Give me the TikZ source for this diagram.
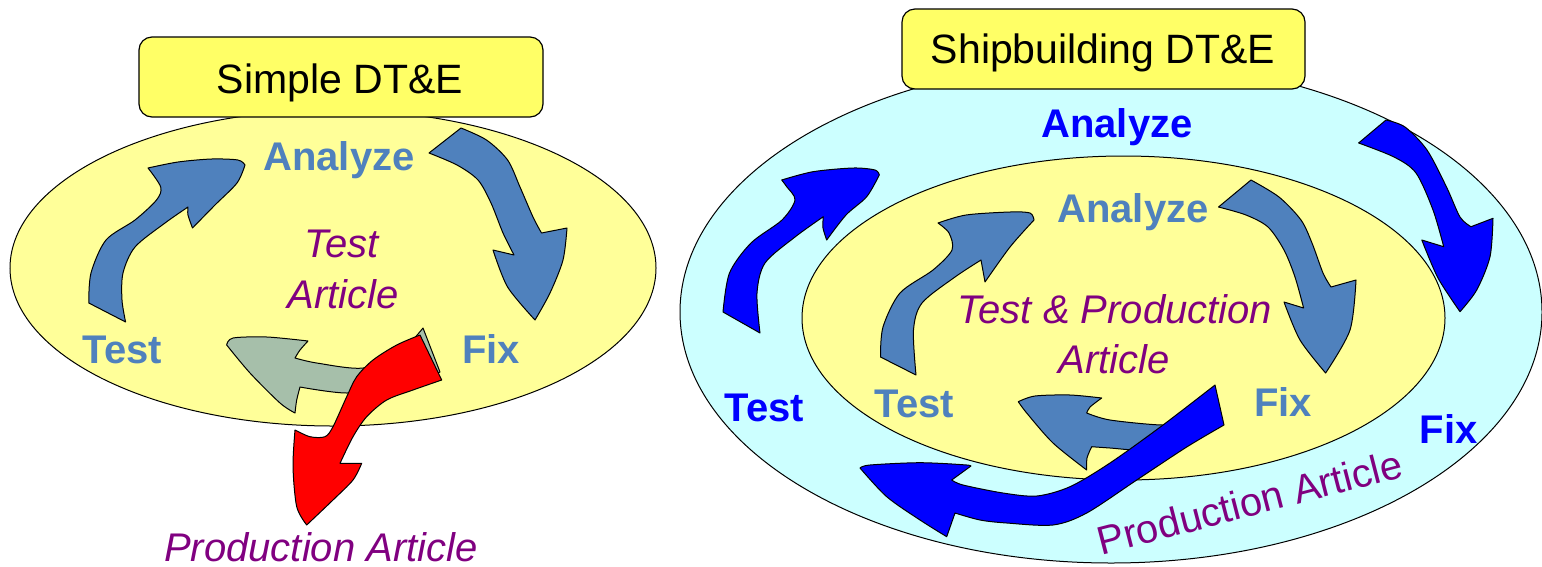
\documentclass[tikz,border=0pt]{standalone}
\usepackage{fontspec}
\setmainfont{Liberation Sans}
\usetikzlibrary{shapes.geometric}
\definecolor{steel}{RGB}{79,129,189}
\definecolor{sage}{RGB}{166,191,170}
\definecolor{pureblue}{RGB}{0,0,255}
\definecolor{artpurple}{RGB}{128,0,128}
\definecolor{boxyellow}{RGB}{255,255,102}
\definecolor{paleyellow}{RGB}{255,255,153}
\definecolor{palecyan}{RGB}{204,255,255}
\begin{document}
\begin{tikzpicture}[x=1pt,y=-1pt,
  shapeline/.style={draw=black,line width=1pt,line join=round},
  labelbold/.style={font=\fontsize{40}{48}\selectfont\bfseries,anchor=base,inner sep=0pt},
  labelital/.style={font=\fontsize{40}{48}\selectfont\itshape,anchor=base,inner sep=0pt,text=artpurple},
  titlebox/.style={draw=black,line width=1.2pt,fill=boxyellow,rounded corners=13pt,inner sep=0pt},
  titletext/.style={font=\fontsize{41}{48}\selectfont,anchor=base,inner sep=0pt},
  oval/.style={ellipse,draw=black,line width=1pt,inner sep=0pt}]
\useasboundingbox (0,0) rectangle (1542,566);

% ---------------- left: Simple DT&E ----------------
\node[oval,fill=paleyellow,minimum width=646pt,minimum height=316pt] (leftoval) at (333,268) {};
\node[titlebox,minimum width=404pt,minimum height=80pt] (simplebox) at (341,77) {};
\node[titletext] (simpletext) at (340,93) {Simple DT\&E};

% Test -> Analyze
\path[shapeline,fill=steel] (125.6,322) -- (88.8,303)
  -- plot[smooth] coordinates {(88.8,303) (91,273) (106,240) (135,220) (156.5,200) (160.7,187) (148,168)}
  -- plot[smooth] coordinates {(148,168) (178,162) (211.5,159) (238,160) (245,165)}
  -- plot[smooth] coordinates {(245,165) (237,183) (215,205) (192.5,228)}
  -- plot[smooth] coordinates {(192.5,228) (188,215) (188,207)}
  -- plot[smooth] coordinates {(188,207) (165,223) (135,247) (123,273) (122,300) (125.6,322)} -- cycle;
% Analyze -> Fix
\path[shapeline,fill=steel] (429,153) -- (461,128)
  -- plot[smooth] coordinates {(461,128) (486.5,140) (507.6,160) (520,187) (533,217) (541.5,233)}
  -- (567,228)
  -- plot[smooth] coordinates {(567,228) (563,260) (550,293) (535,320)}
  -- plot[smooth] coordinates {(535,320) (507.6,287) (493,250)}
  -- (514,255)
  -- plot[smooth] coordinates {(514,255) (503,233) (491,203) (478,180) (457,165) (429,153)} -- cycle;
% Fix -> Test (grey)
\path[shapeline,fill=sage] (226.7,345)
  -- plot[smooth] coordinates {(226.7,345) (233,338) (267,337) (308,341)}
  -- plot[smooth] coordinates {(308,341) (300,350) (295,358)}
  -- plot[smooth] coordinates {(295,358) (316.7,363) (363,368) (400,352) (423,328)}
  -- (440,372)
  -- plot[smooth] coordinates {(440,372) (400,387) (346.7,393) (300,387)}
  -- plot[smooth] coordinates {(300,387) (296.7,400) (295,413)}
  -- plot[smooth] coordinates {(295,413) (280,403) (250,373) (226.7,345)} -- cycle;
% out to production (red)
\path[shapeline,fill=red] (420,335) -- (441.7,380)
  -- plot[smooth] coordinates {(441.7,380) (413,390) (386.7,400) (366.7,416.7) (353,436.7) (340,463.3)}
  -- (361.7,463.3)
  -- plot[smooth] coordinates {(361.7,463.3) (353,480) (333,500) (306.7,525)}
  -- plot[smooth] coordinates {(306.7,525) (296.7,506.7) (293,466.7) (295,430)}
  -- plot[smooth] coordinates {(295,430) (310,436.7) (325,436.7) (333,426.7) (346.7,396.7) (356.7,376.7) (373,360) (396.7,345) (420,335)} -- cycle;

\node[labelbold,text=steel] (lanalyze) at (339,170) {Analyze};
\node[labelbold,text=steel] (ltest) at (122.5,363) {Test};
\node[labelbold,text=steel] (lfix) at (491,363) {Fix};
\node[labelital] (ltestart) at (342,257) {Test};
\node[labelital] (larticle) at (343,308) {Article};
\node[labelital,text depth=0pt] (lprod) at (321,561) {Production Article};

% ---------------- right: Shipbuilding DT&E ----------------
\node[oval,fill=palecyan,minimum width=862pt,minimum height=502pt] (outeroval) at (1111,312) {};
\node[oval,fill=paleyellow,minimum width=643pt,minimum height=324pt] (inneroval) at (1123.5,318) {};
\node[titlebox,minimum width=403pt,minimum height=80pt] (shipbox) at (1103.5,49) {};
\node[titletext] (shiptext) at (1103,63) {Shipbuilding DT\&E};

% outer Test -> Analyze
\path[shapeline,fill=pureblue] (760,333) -- (723,312)
  -- plot[smooth] coordinates {(723,312) (729.5,273) (751,243) (782,220) (795,200) (786.7,186.7) (781.7,180)}
  -- plot[smooth] coordinates {(781.7,180) (813,171.7) (853,168) (875,170) (879.3,175)}
  -- plot[smooth] coordinates {(879.3,175) (866.7,196.7) (846,215) (826.7,240)}
  -- plot[smooth] coordinates {(826.7,240) (823,228) (823.3,216.7)}
  -- plot[smooth] coordinates {(823.3,216.7) (795,237) (765,263) (757,293) (760,333)} -- cycle;
% outer Analyze -> Fix
\path[shapeline,fill=pureblue] (1358.6,143) -- (1386,120)
  -- plot[smooth] coordinates {(1386,120) (1405,127) (1427,150) (1446.5,187) (1460,217) (1471,226.7)}
  -- (1493,218.3)
  -- plot[smooth] coordinates {(1493,218.3) (1490,256.7) (1476.7,290) (1460,311.7)}
  -- plot[smooth] coordinates {(1460,311.7) (1438,278) (1421.8,240)}
  -- (1443.7,246.7)
  -- plot[smooth] coordinates {(1443.7,246.7) (1433,210) (1416,173) (1394,157) (1358.6,143)} -- cycle;
% inner Test -> Analyze
\path[shapeline,fill=steel] (916,375) -- (880.5,357)
  -- plot[smooth] coordinates {(880.5,357) (883,327) (900,293) (933,270) (952,250) (949,233) (938,223)}
  -- plot[smooth] coordinates {(938,223) (966,215) (1010,212) (1030,213) (1034,220)}
  -- plot[smooth] coordinates {(1034,220) (1010,247) (985,282)}
  -- (981,260)
  -- plot[smooth] coordinates {(981,260) (955,277) (922,303) (913.5,330) (916,375)} -- cycle;
% inner Analyze -> Fix
\path[shapeline,fill=steel] (1218.5,207) -- (1251,180)
  -- plot[smooth] coordinates {(1251,180) (1279,197) (1301,220) (1312,243) (1323,273) (1331,287)}
  -- (1356,280)
  -- plot[smooth] coordinates {(1356,280) (1350,330) (1325.6,373)}
  -- plot[smooth] coordinates {(1325.6,373) (1300,340) (1284,302)}
  -- (1303.6,308)
  -- plot[smooth] coordinates {(1303.6,308) (1295,277) (1284,250) (1268,227) (1246,215) (1218.5,207)} -- cycle;
% inner Fix -> Test
\path[shapeline,fill=steel] (1018.3,401.7)
  -- plot[smooth] coordinates {(1018.3,401.7) (1035,396) (1070,395) (1101.7,398)}
  -- plot[smooth] coordinates {(1101.7,398) (1090,407) (1086.7,413)}
  -- plot[smooth] coordinates {(1086.7,413) (1110,420) (1163,425) (1185,420)}
  -- (1180,446)
  -- plot[smooth] coordinates {(1180,446) (1140,450) (1110,448) (1091.7,446.7)}
  -- plot[smooth] coordinates {(1091.7,446.7) (1087,458) (1086.7,470)}
  -- plot[smooth] coordinates {(1086.7,470) (1053,443) (1026.7,413) (1018.3,401.7)} -- cycle;
% production loop (big blue)
\path[shapeline,fill=pureblue] (1215,385) -- (1224,425)
  -- plot[smooth] coordinates {(1224,425) (1186.7,447) (1136.7,480) (1086.7,513) (1053,525) (1006.7,523) (980,520) (955,513)}
  -- (946.7,536.7)
  -- plot[smooth] coordinates {(946.7,536.7) (920,520) (886.7,496.7) (860,468)}
  -- plot[smooth] coordinates {(860,468) (870,465) (920,462.7) (966.7,465) (970,466.7)}
  -- (951.7,480)
  -- plot[smooth] coordinates {(951.7,480) (963,485) (1003,493) (1036.7,496) (1070,486.7) (1110,463) (1163,425) (1215,385)} -- cycle;

\node[labelbold,text=pureblue] (oanalyze) at (1117,137) {Analyze};
\node[labelbold,text=pureblue] (otest) at (764.5,421) {Test};
\node[labelbold,text=pureblue] (ofix) at (1448.5,443) {Fix};
\node[labelbold,text=steel] (ianalyze) at (1133,222) {Analyze};
\node[labelbold,text=steel] (itest) at (914.5,417) {Test};
\node[labelbold,text=steel] (ifix) at (1283,416) {Fix};
\node[labelital] (itestprod) at (1115,323) {Test \& Production};
\node[labelital] (iarticle) at (1114,373) {Article};
\node[font=\fontsize{40}{48}\selectfont,anchor=base,inner sep=0pt,text=artpurple,rotate=14.5] (oprod) at (1253,516) {Production Article};
\end{tikzpicture}
\end{document}
